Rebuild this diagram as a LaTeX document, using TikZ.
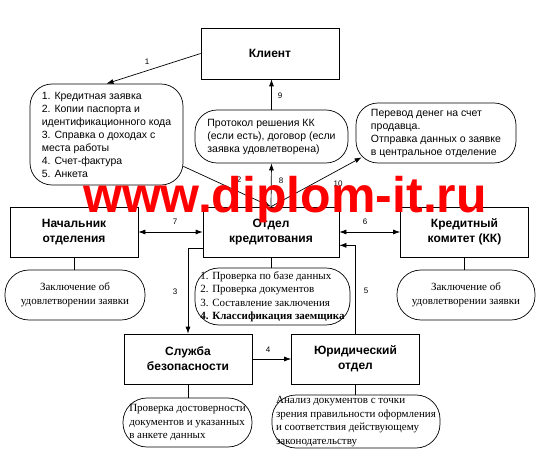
\documentclass[tikz,border=0pt]{standalone}
\usepackage{fontspec}
\setmainfont{Liberation Sans}
\newfontfamily\timesrm{Liberation Serif}
\usetikzlibrary{arrows.meta,calc}
\begin{document}
\begin{tikzpicture}[x=1pt, y=-1pt, line width=0.7pt,
	box/.style={draw, minimum width=128pt, minimum height=50pt, align=center, font=\fontsize{12}{15}\selectfont\bfseries},
	bubble/.style={draw, rounded corners=22pt, align=left, inner sep=0pt, font=\fontsize{10.5}{13}\selectfont},
	note/.style={draw, rounded corners=24pt, inner sep=0pt, font=\timesrm\fontsize{11}{13.5}\selectfont},
	num/.style={font=\fontsize{8}{9}\selectfont, inner sep=1pt},
	arr/.style={-{Latex[length=7pt, width=5pt]}},
	darr/.style={{Latex[length=7pt, width=5pt]}-{Latex[length=7pt, width=5pt]}}]
	\fill[white] (0, 0) rectangle (542, 460);
	\useasboundingbox (0, 0) rectangle (542, 460);
	
	\node[box, minimum width=138pt, minimum height=51pt] (klient) at (270, 53.5) {Клиент};
	\node[box] (nach) at (74, 232) {Начальник\\отделения};
	\node[box, minimum width=136pt] (otdel) at (271, 232) {Отдел\\кредитования};
	\node[box] (kk) at (464.5, 232) {Кредитный\\комитет (КК)};
	\node[box] (sb) at (188, 359) {Служба\\безопасности};
	\node[box] (yur) at (355.5, 359) {Юридический\\отдел};
	
	\node[bubble, minimum width=153pt, minimum height=101pt] (docs) at (106.5, 134.5) {1. Кредитная заявка\\2. Копии паспорта и\\идентификационного кода\\3. Справка о доходах с\\места работы\\4. Счет-фактура\\5. Анкета};
	\node[bubble, minimum width=153pt, minimum height=53pt] (protocol) at (271.5, 136.5) {Протокол решения КК\\(если есть), договор (если\\заявка удовлетворена)};
	\node[bubble, minimum width=160pt, minimum height=60pt] (transfer) at (436, 133) {Перевод денег на счет\\продавца.\\Отправка данных о заявке\\в центральное отделение};
	
	\node[note, align=center, minimum width=140pt, minimum height=50pt] (nachnote) at (75, 295) {Заключение об\\удовлетворении заявки};
	\node[note, align=left, minimum width=155pt, minimum height=57pt] (otdelnote) at (272.5, 296.5) {1. Проверка по базе данных\\2. Проверка документов\\3. Составление заключения\\\textbf{4. Классификация заемщика}};
	\node[note, align=center, minimum width=138pt, minimum height=50pt] (kknote) at (466, 295) {Заключение об\\удовлетворении заявки};
	\node[note, align=left, minimum width=129pt, minimum height=49pt] (sbnote) at (187.5, 422.5) {Проверка достоверности\\документов и указанных\\в анкете данных};
	\node[note, align=left, minimum width=168pt, minimum height=53pt] (yurnote) at (356, 421.5) {Анализ документов с точки\\зрения правильности оформления\\и соответствия действующему\\законодательству};
	
	\draw[arr] (klient.west) -- (docs.north);
	\draw[arr] (protocol.north) -- (protocol.north |- klient.south);
	\draw[arr] (otdel.north) -- (protocol.south);
	\draw[arr] (otdel.north) -- ($(transfer.south west)+(6, -6)$);
	\draw[arr] ($(docs.south east)+(0, -19)$) -- (otdel.north);
	\draw[darr] (nach.east) -- (otdel.west);
	\draw[darr] (otdel.east) -- (kk.west);
	\draw[arr] ($(otdel.south west)+(0, -9)$) -| (sb.north);
	\draw[arr] (sb.east) -- (yur.west);
	\draw[arr] (yur.north) |- ($(otdel.south east)+(0, -12)$);
	
	\draw (nach.south) -- (nachnote.north -| nach.south);
	\draw (otdel.south) -- (otdelnote.north -| otdel.south);
	\draw (kk.south) -- (kknote.north -| kk.south);
	\draw (sb.south) -- (sbnote.north -| sb.south);
	\draw (yur.south) -- (yurnote.north -| yur.south);
	
	\node[num] (l1) at (147, 62) {1};
	\node[num] (l2) at (239, 180) {2};
	\node[num] (l3) at (175, 292) {3};
	\node[num] (l4) at (268, 350) {4};
	\node[num] (l5) at (366, 291) {5};
	\node[num] (l6) at (365, 222) {6};
	\node[num] (l7) at (175, 222) {7};
	\node[num] (l8) at (281, 181) {8};
	\node[num] (l9) at (280, 96) {9};
	\node[num] (l10) at (338, 184) {10};
	
	\node[text=red, anchor=base, font=\fontsize{50}{52}\selectfont\bfseries] (site) at (285, 213) {www.diplom-it.ru};
\end{tikzpicture}
\end{document}
